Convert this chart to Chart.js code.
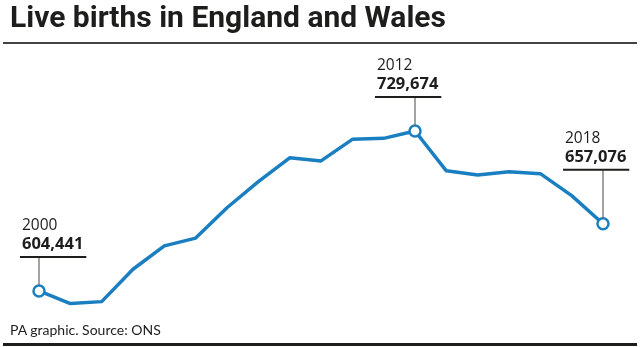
<!DOCTYPE html>
<html>
<head>
<meta charset="utf-8">
<script src="https://cdn.jsdelivr.net/npm/chart.js@4"></script>
<style>
  html, body { margin: 0; padding: 0; background: #fff; }
  .wrap { position: relative; width: 640px; height: 347px; overflow: hidden; }
  .title {
    position: absolute; left: 10px; top: 2px; line-height: 30px;
    font-family: Roboto, sans-serif; font-weight: 700; font-size: 30px;
    color: #1d1d1b; white-space: nowrap;
  }
  .rule-top { position: absolute; left: 3px; right: 3px; top: 42px; height: 2px; background: #444; }
  .rule-bottom { position: absolute; left: 3px; right: 3px; top: 343px; height: 3px; background: #1d1d1b; }
  .source {
    position: absolute; left: 10px; top: 322px; line-height: 16px;
    font-family: Lato, sans-serif; font-size: 14px; color: #1d1d1b; white-space: nowrap;
  }
  canvas { position: absolute; left: 0; top: 0; }
</style>
</head>
<body>
<div class="wrap">
  <canvas id="births" width="640" height="347"></canvas>
  <div class="title">Live births in England and Wales</div>
  <div class="rule-top"></div>
  <div class="source">PA graphic. Source: ONS</div>
  <div class="rule-bottom"></div>
</div>
<script>
// Data
const years = ['2000', '2001', '2002', '2003', '2004', '2005', '2006', '2007', '2008', '2009',
               '2010', '2011', '2012', '2013', '2014', '2015', '2016', '2017', '2018'];
const births = [604441, 594634, 596122, 621469, 639721, 645835, 669601, 690013, 708711, 706248,
                723165, 723913, 729674, 698512, 695233, 697852, 696271, 679106, 657076];

// Highlighted years: index, label shift left of the point, underline height above the point
const callouts = [
  { index: 0, shift: 19, lift: 34 },
  { index: 12, shift: 40, lift: 34 },
  { index: 18, shift: 40, lift: 54 }
];

const LINE_BLUE = '#1a7fc0';

// Draws the label blocks (year, value, underline, leader line)
const calloutPlugin = {
  id: 'callouts',
  afterDatasetsDraw(chart) {
    const ctx = chart.ctx;
    const xs = chart.scales.x;
    const ys = chart.scales.y;
    ctx.save();
    callouts.forEach(c => {
      const px = xs.getPixelForValue(c.index);
      const py = ys.getPixelForValue(births[c.index]);
      const lineY = py - c.lift;
      const left = px - c.shift;
      const valueText = births[c.index].toLocaleString('en-GB');

      ctx.font = '700 16.5px "Open Sans", sans-serif';
      const w = ctx.measureText(valueText).width;

      // leader line
      ctx.strokeStyle = '#666';
      ctx.lineWidth = 1.2;
      ctx.beginPath();
      ctx.moveTo(px, lineY);
      ctx.lineTo(px, py - 5);
      ctx.stroke();

      // underline
      ctx.strokeStyle = '#1d1d1b';
      ctx.lineWidth = 2;
      ctx.beginPath();
      ctx.moveTo(left, lineY);
      ctx.lineTo(left + w + 5, lineY);
      ctx.stroke();

      ctx.fillStyle = '#1d1d1b';
      ctx.textBaseline = 'alphabetic';
      ctx.textAlign = 'left';
      ctx.fillText(valueText, left + 2, lineY - 8);
      ctx.font = '400 15.5px "Open Sans", sans-serif';
      ctx.fillText(years[c.index], left + 2, lineY - 27);
    });
    ctx.restore();
  }
};

const ctx = document.getElementById('births').getContext('2d');
new Chart(ctx, {
  type: 'line',
  data: {
    labels: years,
    datasets: [{
      data: births,
      borderColor: LINE_BLUE,
      borderWidth: 3.5,
      borderJoinStyle: 'round',
      tension: 0,
      pointRadius: births.map((_, i) => callouts.some(c => c.index === i) ? 5.5 : 0),
      pointBorderWidth: 2.5,
      pointBackgroundColor: '#fff',
      pointBorderColor: LINE_BLUE
    }]
  },
  options: {
    responsive: false,
    animation: false,
    layout: { padding: { left: 39, right: 37, top: 50, bottom: 37 } },
    plugins: { legend: { display: false }, tooltip: { enabled: false } },
    scales: {
      x: { display: false, offset: false },
      y: { display: false, min: 589568, max: 793074 }
    }
  },
  plugins: [calloutPlugin]
});
</script>
</body>
</html>
